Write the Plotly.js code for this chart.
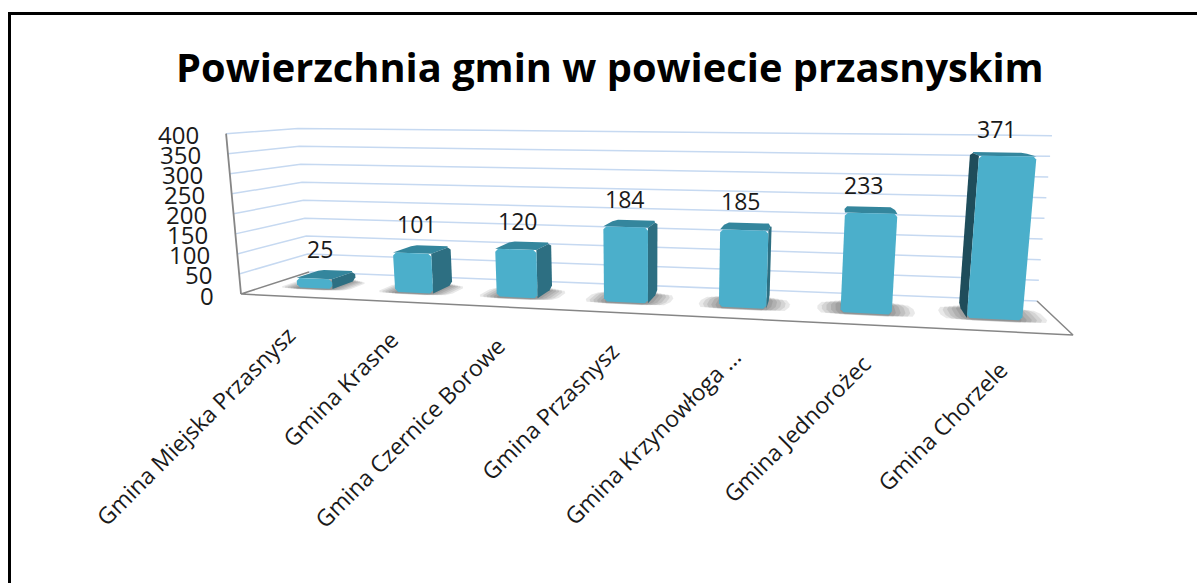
<!DOCTYPE html>
<html><head><meta charset="utf-8">
<script src="https://cdn.plot.ly/plotly-3.0.1.min.js"></script>
<style>html,body{margin:0;padding:0;background:#fff}#c{width:1197px;height:583px}</style>
</head><body><div id="c"></div>
<script>
const categories=["Gmina Miejska Przasnysz","Gmina Krasne","Gmina Czernice Borowe","Gmina Przasnysz","Gmina Krzynowłoga ...","Gmina Jednorożec","Gmina Chorzele"];
const values=[25,101,120,184,185,233,371];
const yTicks=[0,50,100,150,200,250,300,350,400];
const titleText="Powierzchnia gmin w powiecie przasnyskim";
const YMAX=400, D0=0.34, D1=0.72, BW=0.39, BARSCALE=0.98;
// projected corners of the chart's floor and the vertical vanishing point (screen px)
const floorQ=[[241,294],[1073,335],[1037,301],[309,272]];
const VP=[645,4633];
function homog(q){const [p0,p1,p2,p3]=q;
 const dx1=p1[0]-p2[0],dx2=p3[0]-p2[0],sx=p0[0]-p1[0]+p2[0]-p3[0];
 const dy1=p1[1]-p2[1],dy2=p3[1]-p2[1],sy=p0[1]-p1[1]+p2[1]-p3[1];
 const den=dx1*dy2-dx2*dy1;
 const g=(sx*dy2-dx2*sy)/den,h=(dx1*sy-sx*dy1)/den;
 const a=p1[0]-p0[0]+g*p1[0],b=p3[0]-p0[0]+h*p3[0],c=p0[0];
 const d=p1[1]-p0[1]+g*p1[1],e=p3[1]-p0[1]+h*p3[1],f=p0[1];
 return (u,v)=>{const w=g*u+h*v+1;return [(a*u+b*v+c)/w,(d*u+e*v+f)/w];};
}
const F=homog(floorQ);
function fullHeight(p){return 161-0.0005*(p[0]-241)+0.77*(p[1]-294);}
function P(u,d,val,s){const a=F(u,d),H=fullHeight(a)*(val/YMAX)*(s||1);
 const vx=a[0]-VP[0],vy=a[1]-VP[1],n=Math.hypot(vx,vy);return [a[0]+vx/n*H,a[1]+vy/n*H];}
function uCenter(i){const u=(i+0.5)/values.length;return u+0.019*(1-Math.pow(Math.abs(2*u-1),3));}
function chamfer(pts,rs){const out=[];const n=pts.length;
 for(let i=0;i<n;i++){const p=pts[i],a=pts[(i+n-1)%n],b=pts[(i+1)%n],r=rs[i];
  if(!r){out.push(p);continue;}
  const la=Math.hypot(a[0]-p[0],a[1]-p[1]),lb=Math.hypot(b[0]-p[0],b[1]-p[1]);
  const ra=Math.min(r,la/2.2),rb=Math.min(r,lb/2.2);
  out.push([p[0]+(a[0]-p[0])/la*ra,p[1]+(a[1]-p[1])/la*ra]);
  out.push([p[0]+(b[0]-p[0])/lb*rb,p[1]+(b[1]-p[1])/lb*rb]);}
 return out;}
const traces=[];
function poly(pts,fill,op){const xs=pts.map(p=>p[0]),ys=pts.map(p=>p[1]);xs.push(xs[0]);ys.push(ys[0]);
 traces.push({type:'scatter',mode:'lines',x:xs,y:ys,fill:'toself',fillcolor:fill,opacity:op===undefined?1:op,line:{color:'rgba(0,0,0,0)',width:0},hoverinfo:'skip',showlegend:false});}
function path(pts,color,w){traces.push({type:'scatter',mode:'lines',x:pts.map(p=>p[0]),y:pts.map(p=>p[1]),line:{color:color,width:w},hoverinfo:'skip',showlegend:false});}
// gridlines on the walls
yTicks.forEach(v=>{ if(v>0) path([P(0,0,v),P(0,1,v),P(1,1,v)],'#c6d9f1',1.5);});
path([P(0,1,0),P(1,1,0)],'#c6d9f1',1.5);
path([P(0,0,0),P(0,0,YMAX)],'#868686',1.8);
path([P(0,1,0),P(0,0,0),P(1,0,0),P(1,1,0)],'#868686',1.5);
// bars
values.forEach((val,i)=>{
 const uc=uCenter(i),hw=BW/values.length/2,u0=uc-hw,u1=uc+hw;
 for(let k=0;k<6;k++){const g=0.0052*(5-k),dd=0.02*(5-k);
  const d0=D0-0.07+dd*0.3,d1=D0+0.42-dd;
  poly(chamfer([P(u0-g,d0,0),P(u1+g,d0,0),P(u1+g,d1,0),P(u0-g,d1,0)],[4,4,4,4]),'#000',0.085);}
 const S=BARSCALE;
 const fbl=P(u0,D0,0),fbr=P(u1,D0,0),bbl=P(u0,D1,0),bbr=P(u1,D1,0);
 const ftl=P(u0,D0,val,S),ftr=P(u1,D0,val,S),btl=P(u0,D1,val,S),btr=P(u1,D1,val,S);
 const R=3;
 poly(chamfer([btl,btr,ftr,ftl],[R,R,0,0]),'#34869d');
 if(bbr[0]>fbr[0]+1) poly(chamfer([fbr,bbr,btr,ftr],[0,R,R,0]),'#2d6f82');
 if(bbl[0]<fbl[0]-1) poly(chamfer([fbl,bbl,btl,ftl],[0,R,R,0]),i==6?'#1f4d5b':'#2a6578');
 poly(chamfer([fbl,fbr,ftr,ftl],[R,R,R,R]),'#4bafcb');
});
const ann=[];
const txt={family:'Open Sans',color:'#1a1a1a'};
values.forEach((val,i)=>{const uc=uCenter(i),p=P(uc,(D0+D1)/2,val,BARSCALE);
 ann.push({x:p[0]-6,y:p[1]-7,xref:'x',yref:'y',text:String(val),showarrow:false,xanchor:'center',yanchor:'bottom',font:{...txt,size:23}});
 const q=P(uc,0,0);
 ann.push({x:q[0]+13,y:q[1]+20,xref:'x',yref:'y',text:categories[i],showarrow:false,textangle:-45,xanchor:'right',yanchor:'top',font:{...txt,size:23}});
});
yTicks.forEach(v=>{const p=P(0,0,v);
 ann.push({x:p[0]-25,y:p[1]+1,xref:'x',yref:'y',text:String(v),showarrow:false,xanchor:'right',yanchor:'middle',font:{...txt,size:24}});});
ann.push({x:610,y:66,xref:'x',yref:'y',text:titleText,showarrow:false,xanchor:'center',yanchor:'middle',font:{family:'Open Sans',size:39.8,color:'#000',weight:700}});
const frame=[[9.5,583,9.5,13.5],[8,13.5,1197,13.5]].map(s=>({type:'line',xref:'x',yref:'y',x0:s[0],y0:s[1],x1:s[2],y1:s[3],line:{color:'#000',width:3}}));
Plotly.newPlot('c',traces,{width:1197,height:583,margin:{l:0,r:0,t:0,b:0},paper_bgcolor:'#fff',plot_bgcolor:'#fff',showlegend:false,
 xaxis:{range:[0,1197],visible:false,fixedrange:true},yaxis:{range:[583,0],visible:false,fixedrange:true},annotations:ann,shapes:frame},{displayModeBar:false,staticPlot:true});
</script></body></html>
